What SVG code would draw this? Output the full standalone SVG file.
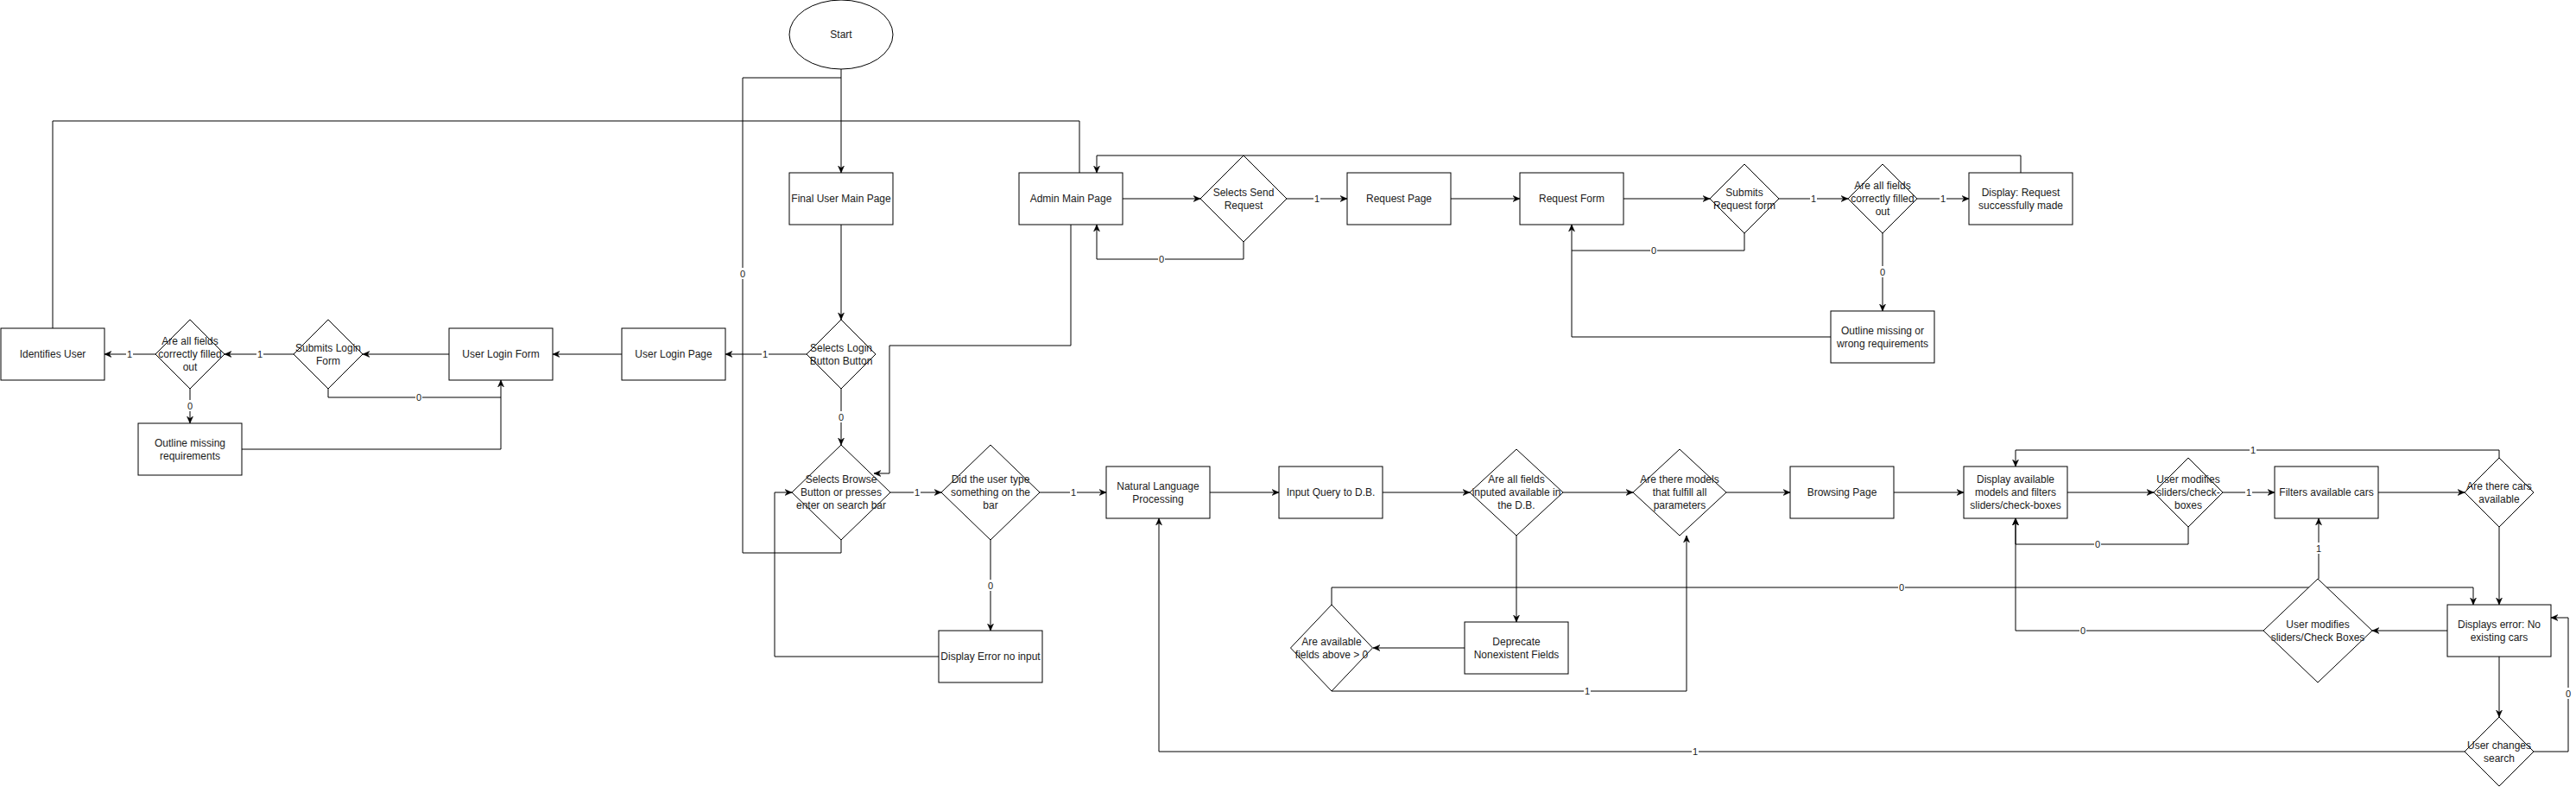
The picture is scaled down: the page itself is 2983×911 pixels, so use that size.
<svg xmlns="http://www.w3.org/2000/svg" width="2983" height="911" viewBox="0 0 2983 911">
<defs>
<style>
.n{fill:#fff;stroke:#000;stroke-width:1}
.t{font-family:"Liberation Sans",Arial,Helvetica,sans-serif;font-size:12px;fill:#1a1a1a;text-anchor:middle}
.e{fill:none;stroke:#000;stroke-width:1}
.a{marker-end:url(#arr)}
.lb{fill:#fff}
.lt{font-family:"Liberation Sans",Arial,Helvetica,sans-serif;font-size:11px;fill:#1a1a1a;text-anchor:middle}
</style>
<marker id="arr" viewBox="-8 -4 8 8" refX="0" refY="0" markerWidth="8" markerHeight="8" markerUnits="userSpaceOnUse" orient="auto">
<path d="M-8,-3.5 L0,0 L-8,3.5 L-5.5,0 Z" fill="#000" stroke="#000" stroke-width="0.5"/>
</marker>
</defs>
<rect width="2983" height="911" fill="#fff"/>

<g id="connectors">
<path class="e a" d="M974,80 L974,200"/>
<path class="e" d="M974,625 L974,640 L860,640 L860,90 L974,90"/>
<path class="e a" d="M974,260 L974,370"/>
<path class="e a" d="M974,450 L974,515"/>
<path class="e a" d="M934,410 L840,410"/>
<path class="e a" d="M720,410 L640,410"/>
<path class="e a" d="M520,410 L420,410"/>
<path class="e a" d="M340,410 L260,410"/>
<path class="e a" d="M180,410 L121,410"/>
<path class="e a" d="M220,450 L220,490"/>
<path class="e a" d="M380,450 L380,460 L580,460 L580,440"/>
<path class="e" d="M280,520 L580,520 L580,460"/>
<path class="e" d="M61,380 L61,140 L1250,140 L1250,200"/>
<path class="e a" d="M1300,230 L1390,230"/>
<path class="e a" d="M1490,230 L1560,230"/>
<path class="e a" d="M1440,280 L1440,300 L1270,300 L1270,260"/>
<path class="e a" d="M1680,230 L1760,230"/>
<path class="e a" d="M1880,230 L1980,230"/>
<path class="e a" d="M2060,230 L2140,230"/>
<path class="e a" d="M2220,230 L2280,230"/>
<path class="e a" d="M2020,270 L2020,290 L1820,290 L1820,260"/>
<path class="e a" d="M2180,270 L2180,360"/>
<path class="e" d="M2120,390 L1820,390 L1820,290"/>
<path class="e a" d="M2340,200 L2340,180 L1270,180 L1270,200"/>
<path class="e a" d="M1240,260 L1240,400 L1030,400 L1030,548 L1012,548"/>
<path class="e a" d="M1031,570 L1090,570"/>
<path class="e a" d="M1204,570 L1281,570"/>
<path class="e a" d="M1147,625 L1147,730"/>
<path class="e a" d="M1087,760 L897,760 L897,570 L917,570"/>
<path class="e a" d="M1401,570 L1481,570"/>
<path class="e a" d="M1601,570 L1702,570"/>
<path class="e a" d="M1810,570 L1891,570"/>
<path class="e a" d="M1756,620 L1756,720"/>
<path class="e a" d="M1696,750 L1590,750"/>
<path class="e a" d="M1542,800 L1953,800 L1953,620"/>
<path class="e a" d="M1542,700 L1542,680 L2864,680 L2864,700"/>
<path class="e a" d="M1999,570 L2073,570"/>
<path class="e a" d="M2193,570 L2274,570"/>
<path class="e a" d="M2394,570 L2494,570"/>
<path class="e a" d="M2574,570 L2634,570"/>
<path class="e a" d="M2754,570 L2854,570"/>
<path class="e a" d="M2894,530 L2894,521 L2334,521 L2334,540"/>
<path class="e a" d="M2894,610 L2894,700"/>
<path class="e a" d="M2534,610 L2534,630 L2334,630 L2334,600"/>
<path class="e a" d="M2834,730 L2747,730"/>
<path class="e a" d="M2621,730 L2334,730 L2334,600"/>
<path class="e a" d="M2685,670 L2685,600"/>
<path class="e a" d="M2894,760 L2894,830"/>
<path class="e a" d="M2934,870 L2974,870 L2974,715 L2954,715"/>
<path class="e a" d="M2854,870 L1342,870 L1342,600"/>

<g id="labels">
<rect class="lb" x="856" y="310" width="8" height="13"/><text class="lt" x="860" y="321">0</text>
<rect class="lb" x="970" y="476" width="8" height="13"/><text class="lt" x="974" y="487">0</text>
<rect class="lb" x="882" y="403" width="8" height="13"/><text class="lt" x="886" y="414">1</text>
<rect class="lb" x="297" y="403" width="8" height="13"/><text class="lt" x="301" y="414">1</text>
<rect class="lb" x="146" y="403" width="8" height="13"/><text class="lt" x="150" y="414">1</text>
<rect class="lb" x="481" y="453" width="8" height="13"/><text class="lt" x="485" y="464">0</text>
<rect class="lb" x="216" y="463" width="8" height="13"/><text class="lt" x="220" y="474">0</text>
<rect class="lb" x="1521" y="223" width="8" height="13"/><text class="lt" x="1525" y="234">1</text>
<rect class="lb" x="1341" y="293" width="8" height="13"/><text class="lt" x="1345" y="304">0</text>
<rect class="lb" x="2096" y="223" width="8" height="13"/><text class="lt" x="2100" y="234">1</text>
<rect class="lb" x="2246" y="223" width="8" height="13"/><text class="lt" x="2250" y="234">1</text>
<rect class="lb" x="1911" y="283" width="8" height="13"/><text class="lt" x="1915" y="294">0</text>
<rect class="lb" x="2176" y="308" width="8" height="13"/><text class="lt" x="2180" y="319">0</text>
<rect class="lb" x="1058" y="563" width="8" height="13"/><text class="lt" x="1062" y="574">1</text>
<rect class="lb" x="1239" y="563" width="8" height="13"/><text class="lt" x="1243" y="574">1</text>
<rect class="lb" x="1143" y="671" width="8" height="13"/><text class="lt" x="1147" y="682">0</text>
<rect class="lb" x="2600" y="563" width="8" height="13"/><text class="lt" x="2604" y="574">1</text>
<rect class="lb" x="2605" y="514" width="8" height="13"/><text class="lt" x="2609" y="525">1</text>
<rect class="lb" x="2425" y="623" width="8" height="13"/><text class="lt" x="2429" y="634">0</text>
<rect class="lb" x="2408" y="723" width="8" height="13"/><text class="lt" x="2412" y="734">0</text>
<rect class="lb" x="2681" y="628" width="8" height="13"/><text class="lt" x="2685" y="639">1</text>
<rect class="lb" x="2970" y="796" width="8" height="13"/><text class="lt" x="2974" y="807">0</text>
<rect class="lb" x="1959" y="863" width="8" height="13"/><text class="lt" x="1963" y="874">1</text>
<rect class="lb" x="1834" y="793" width="8" height="13"/><text class="lt" x="1838" y="804">1</text>
<rect class="lb" x="2198" y="673" width="8" height="13"/><text class="lt" x="2202" y="684">0</text>
</g>
</g>

<g id="start"><ellipse class="n" cx="974" cy="40" rx="60" ry="40"/><text class="t" x="974" y="44">Start</text></g>
<g id="finalUserMain"><rect class="n" x="914" y="200" width="120" height="60"/><text class="t" x="974" y="234">Final User Main Page</text></g>
<g id="adminMain"><rect class="n" x="1180" y="200" width="120" height="60"/><text class="t" x="1240" y="234">Admin Main Page</text></g>
<g id="selectsSend"><polygon class="n" points="1440,180 1490,230 1440,280 1390,230"/><text class="t"><tspan x="1440" y="227">Selects Send</tspan><tspan x="1440" y="242">Request</tspan></text></g>
<g id="requestPage"><rect class="n" x="1560" y="200" width="120" height="60"/><text class="t" x="1620" y="234">Request Page</text></g>
<g id="requestForm"><rect class="n" x="1760" y="200" width="120" height="60"/><text class="t" x="1820" y="234">Request Form</text></g>
<g id="submitsRequest"><polygon class="n" points="2020,190 2060,230 2020,270 1980,230"/><text class="t"><tspan x="2020" y="227">Submits</tspan><tspan x="2020" y="242">Request form</tspan></text></g>
<g id="allFieldsReq"><polygon class="n" points="2180,190 2220,230 2180,270 2140,230"/><text class="t"><tspan x="2180" y="219">Are all fields</tspan><tspan x="2180" y="234">correctly filled</tspan><tspan x="2180" y="249">out</tspan></text></g>
<g id="displayRequest"><rect class="n" x="2280" y="200" width="120" height="60"/><text class="t"><tspan x="2340" y="227">Display: Request</tspan><tspan x="2340" y="242">successfully made</tspan></text></g>
<g id="outlineReq"><rect class="n" x="2120" y="360" width="120" height="60"/><text class="t"><tspan x="2180" y="387">Outline missing or</tspan><tspan x="2180" y="402">wrong requirements</tspan></text></g>

<g id="selectsLogin"><polygon class="n" points="974,370 1014,410 974,450 934,410"/><text class="t"><tspan x="974" y="407">Selects Login</tspan><tspan x="974" y="422">Button Button</tspan></text></g>
<g id="userLoginPage"><rect class="n" x="720" y="380" width="120" height="60"/><text class="t" x="780" y="414">User Login Page</text></g>
<g id="userLoginForm"><rect class="n" x="520" y="380" width="120" height="60"/><text class="t" x="580" y="414">User Login Form</text></g>
<g id="submitsLogin"><polygon class="n" points="380,370 420,410 380,450 340,410"/><text class="t"><tspan x="380" y="407">Submits Login</tspan><tspan x="380" y="422">Form</tspan></text></g>
<g id="allFieldsLogin"><polygon class="n" points="220,370 260,410 220,450 180,410"/><text class="t"><tspan x="220" y="399">Are all fields</tspan><tspan x="220" y="414">correctly filled</tspan><tspan x="220" y="429">out</tspan></text></g>
<g id="identifiesUser"><rect class="n" x="1" y="380" width="120" height="60"/><text class="t" x="61" y="414">Identifies User</text></g>
<g id="outlineLogin"><rect class="n" x="160" y="490" width="120" height="60"/><text class="t"><tspan x="220" y="517">Outline missing</tspan><tspan x="220" y="532">requirements</tspan></text></g>

<g id="selectsBrowse"><polygon class="n" points="974,515 1031,570 974,625 917,570"/><text class="t"><tspan x="974" y="559">Selects Browse</tspan><tspan x="974" y="574">Button or presses</tspan><tspan x="974" y="589">enter on search bar</tspan></text></g>
<g id="didUserType"><polygon class="n" points="1147,515 1204,570 1147,625 1090,570"/><text class="t"><tspan x="1147" y="559">Did the user type</tspan><tspan x="1147" y="574">something on the</tspan><tspan x="1147" y="589">bar</tspan></text></g>
<g id="displayError"><rect class="n" x="1087" y="730" width="120" height="60"/><text class="t" x="1147" y="764">Display Error no input</text></g>
<g id="nlp"><rect class="n" x="1281" y="540" width="120" height="60"/><text class="t"><tspan x="1341" y="567">Natural Language</tspan><tspan x="1341" y="582">Processing</tspan></text></g>
<g id="inputQuery"><rect class="n" x="1481" y="540" width="120" height="60"/><text class="t" x="1541" y="574">Input Query to D.B.</text></g>
<g id="allFieldsDB"><polygon class="n" points="1756,520 1810,570 1756,620 1702,570"/><text class="t"><tspan x="1756" y="559">Are all fields</tspan><tspan x="1756" y="574">inputed available in</tspan><tspan x="1756" y="589">the D.B.</tspan></text></g>
<g id="deprecate"><rect class="n" x="1696" y="720" width="120" height="60"/><text class="t"><tspan x="1756" y="747">Deprecate</tspan><tspan x="1756" y="762">Nonexistent Fields</tspan></text></g>
<g id="availAbove"><polygon class="n" points="1542,700 1589.5,750 1542,800 1494.5,750"/><text class="t"><tspan x="1542" y="747">Are available</tspan><tspan x="1542" y="762">fields above &gt; 0</tspan></text></g>
<g id="modelsFulfill"><polygon class="n" points="1945,520 1999,570 1945,620 1891,570"/><text class="t"><tspan x="1945" y="559">Are there models</tspan><tspan x="1945" y="574">that fulfill all</tspan><tspan x="1945" y="589">parameters</tspan></text></g>
<g id="browsing"><rect class="n" x="2073" y="540" width="120" height="60"/><text class="t" x="2133" y="574">Browsing Page</text></g>
<g id="displayAvail"><rect class="n" x="2274" y="540" width="120" height="60"/><text class="t"><tspan x="2334" y="559">Display available</tspan><tspan x="2334" y="574">models and filters</tspan><tspan x="2334" y="589">sliders/check-boxes</tspan></text></g>
<g id="userModSmall"><polygon class="n" points="2534,530 2574,570 2534,610 2494,570"/><text class="t"><tspan x="2534" y="559">User modifies</tspan><tspan x="2534" y="574">sliders/check-</tspan><tspan x="2534" y="589">boxes</tspan></text></g>
<g id="filters"><rect class="n" x="2634" y="540" width="120" height="60"/><text class="t" x="2694" y="574">Filters available cars</text></g>
<g id="carsAvail"><polygon class="n" points="2894,530 2934,570 2894,610 2854,570"/><text class="t"><tspan x="2894" y="567">Are there cars</tspan><tspan x="2894" y="582">available</tspan></text></g>
<g id="displaysError"><rect class="n" x="2834" y="700" width="120" height="60"/><text class="t"><tspan x="2894" y="727">Displays error: No</tspan><tspan x="2894" y="742">existing cars</tspan></text></g>
<g id="userModBig"><polygon class="n" points="2684,670 2747,730 2684,790 2621,730"/><text class="t"><tspan x="2684" y="727">User modifies</tspan><tspan x="2684" y="742">sliders/Check Boxes</tspan></text></g>
<g id="userChanges"><polygon class="n" points="2894,830 2934,870 2894,910 2854,870"/><text class="t"><tspan x="2894" y="867">User changes</tspan><tspan x="2894" y="882">search</tspan></text></g>
</svg>
